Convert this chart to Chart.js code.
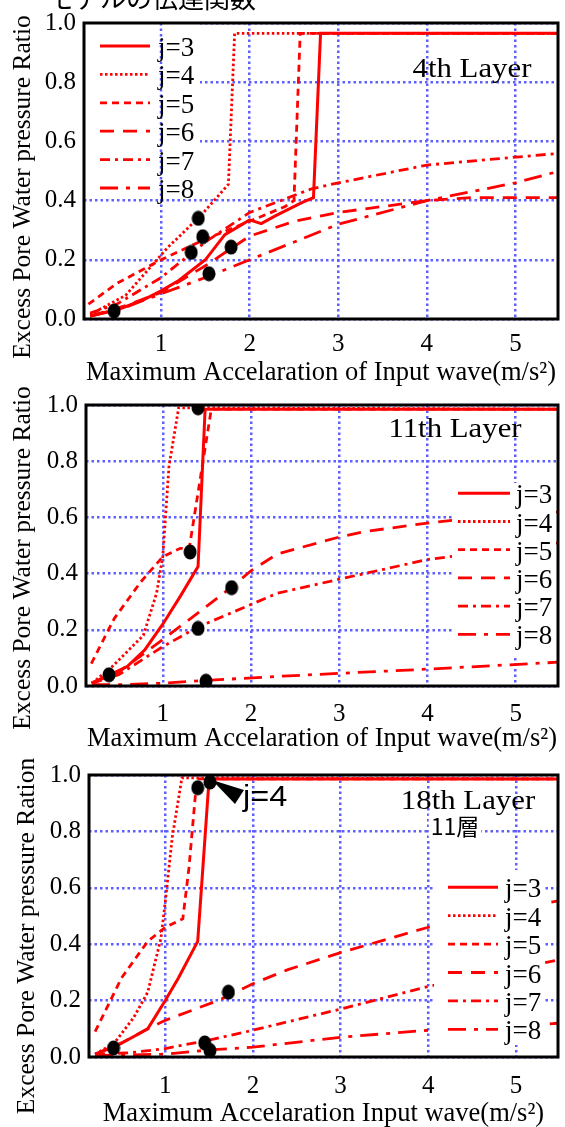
<!DOCTYPE html>
<html>
<head>
<meta charset="utf-8">
<script src="https://cdn.jsdelivr.net/npm/chart.js@4.4.1/dist/chart.umd.min.js"></script>
<style>
  html, body { margin: 0; padding: 0; background: #fff; }
  body { position: relative; width: 565px; height: 1127px; overflow: hidden; }
  canvas { position: absolute; left: 0; }
</style>
</head>
<body>
<canvas id="layer4" width="565" height="386" style="top:0"></canvas>
<canvas id="layer11" width="565" height="370" style="top:382px"></canvas>
<canvas id="layer18" width="565" height="375" style="top:752px"></canvas>
<script>
// axis ticks
const X_TICKS = [1, 2, 3, 4, 5];
const Y_TICKS = [0, 0.2, 0.4, 0.6, 0.8, 1.0];
const X_MIN = 0.13, X_MAX = 5.48;
const SERIES_NAMES = ["j=3", "j=4", "j=5", "j=6", "j=7", "j=8"];

// 4th layer  [acceleration, ratio]
const L4_J3 = [[0.2, 0.01], [0.5, 0.03], [0.8, 0.065], [1.0, 0.095], [1.2, 0.13], [1.5, 0.2], [1.72, 0.285], [2.0, 0.335], [2.13, 0.322], [2.3, 0.35], [2.6, 0.395], [2.72, 0.41], [2.8, 0.965], [5.5, 0.965]];
const L4_J4 = [[0.2, 0.015], [0.6, 0.08], [1.07, 0.24], [1.45, 0.35], [1.76, 0.455], [1.83, 0.965], [5.5, 0.965]];
const L4_J5 = [[0.18, 0.05], [0.5, 0.12], [1.0, 0.2], [1.5, 0.27], [2.0, 0.33], [2.4, 0.38], [2.5, 0.4], [2.57, 0.965], [5.5, 0.965]];
const L4_J6 = [[0.2, 0.01], [0.6, 0.045], [1.0, 0.09], [1.5, 0.18], [2.0, 0.28], [2.5, 0.33], [3.0, 0.36], [3.5, 0.38], [4.0, 0.4], [4.5, 0.41], [5.5, 0.41]];
const L4_J7 = [[0.2, 0.02], [0.5, 0.05], [1.0, 0.14], [1.5, 0.26], [2.0, 0.36], [2.7, 0.44], [3.0, 0.46], [4.0, 0.52], [5.5, 0.56]];
const L4_J8 = [[0.2, 0.01], [0.6, 0.04], [1.0, 0.085], [1.5, 0.14], [2.0, 0.2], [3.0, 0.32], [4.0, 0.4], [5.0, 0.46], [5.5, 0.5]];
const L4_OBS = [[0.47, 0.027], [1.42, 0.34], [1.47, 0.278], [1.34, 0.225], [1.79, 0.243], [1.54, 0.153]];

// 11th layer
const L11_J3 = [[0.19, 0.01], [0.4, 0.04], [0.6, 0.07], [0.8, 0.13], [1.0, 0.22], [1.2, 0.32], [1.4, 0.425], [1.48, 0.985], [5.5, 0.985]];
const L11_J4 = [[0.2, 0.01], [0.43, 0.07], [0.78, 0.18], [0.93, 0.33], [1.0, 0.46], [1.07, 0.78], [1.18, 0.99], [1.5, 0.99], [5.5, 0.985]];
const L11_J5 = [[0.19, 0.08], [0.45, 0.24], [0.75, 0.37], [1.0, 0.46], [1.2, 0.49], [1.3, 0.49], [1.55, 0.985], [5.5, 0.985]];
const L11_J6 = [[0.2, 0.01], [0.5, 0.05], [0.85, 0.13], [1.4, 0.26], [1.77, 0.35], [2.0, 0.41], [2.3, 0.47], [3.0, 0.53], [3.3, 0.55], [4.0, 0.58], [4.3, 0.59], [5.5, 0.62]];
const L11_J7 = [[0.2, 0.01], [0.5, 0.04], [0.8, 0.1], [1.0, 0.14], [1.4, 0.21], [2.0, 0.29], [2.3, 0.33], [3.0, 0.38], [4.0, 0.45], [4.5, 0.47], [5.5, 0.51]];
const L11_J8 = [[0.2, 0.005], [0.6, 0.005], [1.0, 0.01], [1.5, 0.02], [2.3, 0.034], [3.0, 0.045], [4.0, 0.06], [5.5, 0.085]];
const L11_OBS = [[1.4, 0.99], [1.31, 0.477], [1.78, 0.35], [1.4, 0.205], [0.39, 0.04], [1.49, 0.017]];

// 18th layer
const L18_J3 = [[0.2, 0.01], [0.45, 0.04], [0.8, 0.1], [1.0, 0.2], [1.15, 0.28], [1.37, 0.41], [1.5, 0.986], [5.5, 0.986]];
const L18_J4 = [[0.2, 0.01], [0.42, 0.05], [0.64, 0.14], [0.8, 0.23], [0.95, 0.42], [1.0, 0.55], [1.08, 0.78], [1.19, 0.99], [5.5, 0.986]];
const L18_J5 = [[0.2, 0.09], [0.5, 0.28], [0.8, 0.41], [1.0, 0.46], [1.2, 0.49], [1.27, 0.67], [1.36, 0.986], [5.5, 0.986]];
const L18_J6 = [[0.2, 0.01], [0.5, 0.05], [0.8, 0.1], [1.0, 0.13], [1.6, 0.2], [2.0, 0.26], [2.4, 0.31], [3.0, 0.37], [4.0, 0.46], [5.5, 0.555]];
const L18_J7 = [[0.2, 0.01], [0.6, 0.015], [1.0, 0.03], [1.5, 0.06], [2.0, 0.095], [3.0, 0.17], [4.0, 0.25], [5.5, 0.345]];
const L18_J8 = [[0.2, 0.005], [1.0, 0.01], [1.5, 0.025], [2.0, 0.035], [3.0, 0.07], [4.0, 0.095], [4.5, 0.1], [5.5, 0.12]];
const L18_OBS = [[0.41, 0.032], [1.37, 0.955], [1.51, 0.975], [1.72, 0.23], [1.45, 0.05], [1.51, 0.023]];

const RED = "#ff0000";
const GRID_BLUE = "#5f5fff";
const GRID_DASH = [2.5, 3];
const SERIF = "'Liberation Serif', 'Times New Roman', serif";

const LINE_STYLE = {
    "j=3": { dash: [], width: 3 },
    "j=4": { dash: [2.5, 2.5], width: 2.8 },
    "j=5": { dash: [7, 5], width: 2.8 },
    "j=6": { dash: [14, 9], width: 2.8 },
    "j=7": { dash: [10, 5, 3, 5], width: 2.8 },
    "j=8": { dash: [18, 8, 4, 8], width: 2.8 }
};

// filled black ellipse used for the measured points
const MARKER = (() => {
    const c = document.createElement("canvas");
    c.width = 14;
    c.height = 16;
    const g = c.getContext("2d");
    g.fillStyle = "#000";
    g.beginPath();
    g.ellipse(7, 8, 6.5, 7.5, 0, 0, Math.PI * 2);
    g.fill();
    return c;
})();

function toPoints(pairs) {
    return pairs.map(p => ({ x: p[0], y: p[1] }));
}

function drawText(ctx, t) {
    ctx.save();
    ctx.font = t.font;
    ctx.fillStyle = "#000";
    ctx.textAlign = t.align || "center";
    ctx.textBaseline = t.baseline || "middle";
    ctx.translate(t.x, t.y);
    if (t.rotate) ctx.rotate(t.rotate);
    if (t.stretch) ctx.scale(t.stretch, 1);
    if (t.bg) {
        const w = ctx.measureText(t.text).width;
        ctx.fillStyle = "#fff";
        ctx.fillRect(-w / 2 - 2, -12, w + 4, 24);
        ctx.fillStyle = "#000";
    }
    ctx.fillText(t.text, 0, 0);
    ctx.restore();
}

// legend box, legend, labels and frame drawn over the datasets
const panelDecor = {
    id: "panelDecor",
    afterDatasetsDraw(chart, args, o) {
        const { ctx, chartArea: a, scales: { x, y } } = chart;
        const b = o.box;

        ctx.save();
        ctx.fillStyle = "#fff";
        ctx.fillRect(b.left, b.top, b.right - b.left, b.bottom - b.top);

        if (b.keepVertical) {
            ctx.strokeStyle = GRID_BLUE;
            ctx.lineWidth = 2.5;
            ctx.setLineDash(GRID_DASH);
            X_TICKS.forEach(v => {
                const px = Math.round(x.getPixelForValue(v));
                if (px > b.left && px < b.right) {
                    ctx.beginPath();
                    ctx.moveTo(px, a.top);
                    ctx.lineTo(px, b.bottom);
                    ctx.stroke();
                }
            });
        }

        SERIES_NAMES.forEach((name, i) => {
            const ly = o.legend.y + i * o.legend.step;
            const st = LINE_STYLE[name];
            ctx.strokeStyle = RED;
            ctx.lineWidth = st.width;
            ctx.setLineDash(st.dash);
            ctx.beginPath();
            ctx.moveTo(o.legend.x0, ly);
            ctx.lineTo(o.legend.x1, ly);
            ctx.stroke();
            drawText(ctx, {
                text: name, x: o.legend.tx, y: ly + 3,
                font: "27px " + SERIF, align: "left"
            });
        });
        ctx.setLineDash([]);

        if (o.arrow) {
            const pt = o.arrow.point;
            const px = x.getPixelForValue(pt[0]);
            const py = y.getPixelForValue(pt[1]);
            ctx.fillStyle = "#000";
            ctx.beginPath();
            ctx.moveTo(px + 2, py - 2);
            ctx.lineTo(px + 34, py + 8);
            ctx.lineTo(px + 25, py + 22);
            ctx.closePath();
            ctx.fill();
            drawText(ctx, {
                text: o.arrow.text, x: px + 33, y: py + 16,
                font: "29px 'Liberation Sans', Arial, sans-serif", align: "left", stretch: 1.12
            });
        }

        o.texts.forEach(t => drawText(ctx, t));

        drawText(ctx, {
            text: o.yTitle, x: o.yTitleAt[0], y: o.yTitleAt[1],
            font: "25.5px " + SERIF, rotate: -Math.PI / 2
        });

        ctx.strokeStyle = "#000";
        ctx.lineWidth = 3;
        ctx.strokeRect(a.left, a.top, a.right - a.left, a.bottom - a.top);
        ctx.restore();
    }
};

const PANELS = [
    {
        id: "layer4",
        series: [L4_J3, L4_J4, L4_J5, L4_J6, L4_J7, L4_J8],
        obs: L4_OBS,
        xTitle: "Maximum Accelaration of Input wave(m/s²)",
        padTop: 21, yWidth: 84, xHeight: 67, xTickPad: 10,
        decor: {
            yTitle: "Excess Pore Water pressure Ratio",
            yTitleAt: [23, 187],
            box: { left: 85, top: 22, right: 200, bottom: 198, keepVertical: true },
            legend: { x0: 100, x1: 150, tx: 158, y: 46, step: 28.4 },
            texts: [
                { text: "4th Layer", x: 472, y: 70, font: "28px " + SERIF, stretch: 1.1 },
                { text: "モデルの伝達関数", x: 48, y: 8, font: "26px 'Noto Sans CJK JP'", align: "left", baseline: "alphabetic" }
            ]
        }
    },
    {
        id: "layer11",
        series: [L11_J3, L11_J4, L11_J5, L11_J6, L11_J7, L11_J8],
        obs: L11_OBS,
        xTitle: "Maximum Accelaration of Input wave(m/s²)",
        padTop: 10, yWidth: 86, xHeight: 66, xTickPad: 13,
        decor: {
            yTitle: "Excess Pore Water pressure Ratio",
            yTitleAt: [23, 176],
            box: { left: 452, top: 101, right: 556, bottom: 276 },
            legend: { x0: 458, x1: 510, tx: 516, y: 111.3, step: 28.2 },
            texts: [
                { text: "11th Layer", x: 455, y: 48, font: "28px " + SERIF, stretch: 1.1 }
            ]
        }
    },
    {
        id: "layer18",
        series: [L18_J3, L18_J4, L18_J5, L18_J6, L18_J7, L18_J8],
        obs: L18_OBS,
        xTitle: "Maximum Accelaration Input wave(m/s²)",
        padTop: 11, yWidth: 89, xHeight: 70, xTickPad: 14,
        decor: {
            yTitle: "Excess Pore Water pressure Ration",
            yTitleAt: [27, 184],
            box: { left: 434, top: 118, right: 543, bottom: 293 },
            legend: { x0: 448, x1: 498, tx: 505, y: 135.3, step: 28.4 },
            arrow: { point: L18_OBS[2], text: "j=4" },
            texts: [
                { text: "18th Layer", x: 468, y: 50, font: "28px " + SERIF, stretch: 1.1 },
                { text: "11層", x: 455, y: 74, font: "23px 'Noto Sans CJK JP'", bg: true }
            ]
        }
    }
];

function makeChart(p) {
    const datasets = [{
        label: "obs",
        data: toPoints(p.obs),
        showLine: false,
        pointStyle: MARKER,
        pointRadius: 6,
        order: 0
    }];

    SERIES_NAMES.forEach((name, i) => {
        datasets.push({
            label: name,
            data: toPoints(p.series[i]),
            borderColor: RED,
            borderWidth: LINE_STYLE[name].width,
            borderDash: LINE_STYLE[name].dash,
            pointRadius: 0,
            tension: 0,
            fill: false,
            order: 1
        });
    });

    const gridOpts = { color: GRID_BLUE, lineWidth: 2.5, drawTicks: false };

    return new Chart(document.getElementById(p.id), {
        type: "line",
        data: { datasets },
        options: {
            responsive: false,
            animation: false,
            layout: { padding: { top: p.padTop, right: 2, left: 0, bottom: 0 } },
            plugins: {
                legend: { display: false },
                tooltip: { enabled: false },
                panelDecor: p.decor
            },
            scales: {
                x: {
                    type: "linear",
                    min: X_MIN,
                    max: X_MAX,
                    afterBuildTicks: s => { s.ticks = X_TICKS.map(v => ({ value: v })); },
                    afterFit: s => { s.height = p.xHeight; },
                    grid: gridOpts,
                    border: { display: false, dash: GRID_DASH },
                    ticks: { color: "#000", padding: p.xTickPad, font: { family: SERIF, size: 25 } },
                    title: {
                        display: true,
                        text: p.xTitle,
                        color: "#000",
                        padding: 0,
                        font: { family: SERIF, size: 26.5, lineHeight: 1 }
                    }
                },
                y: {
                    type: "linear",
                    min: 0,
                    max: 1,
                    afterBuildTicks: s => { s.ticks = Y_TICKS.map(v => ({ value: v })); },
                    afterFit: s => { s.width = p.yWidth; },
                    grid: gridOpts,
                    border: { display: false, dash: GRID_DASH },
                    ticks: {
                        color: "#000",
                        padding: 8,
                        font: { family: SERIF, size: 25 },
                        callback: v => v.toFixed(1)
                    }
                }
            }
        },
        plugins: [panelDecor]
    });
}

PANELS.forEach(makeChart);
</script>
</body>
</html>
